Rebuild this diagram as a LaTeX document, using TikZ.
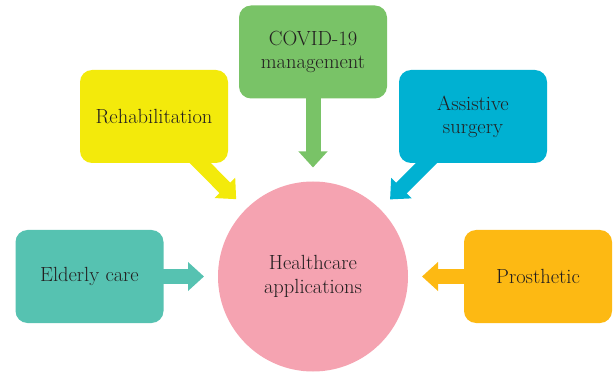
\documentclass[tikz,border=0pt]{standalone}
\usepackage{fontspec}
\usetikzlibrary{arrows.meta,backgrounds}
\definecolor{cyel}{HTML}{F3EA0B}
\definecolor{cgreen}{HTML}{79C367}
\definecolor{cblue}{HTML}{00B1D2}
\definecolor{cteal}{HTML}{56C2B1}
\definecolor{corange}{HTML}{FDB913}
\definecolor{cpink}{HTML}{F5A3B1}
\definecolor{ctext}{HTML}{231F20}
\begin{document}
\begin{tikzpicture}[x=1pt,y=-1pt,
  box/.style={rounded corners=12pt, minimum width=148pt, minimum height=93pt,
    inner sep=0pt, outer sep=0pt, align=center, text=ctext,
    font=\fontsize{20.5}{23}\selectfont},
  hub/.style={circle, fill=cpink, minimum size=190pt, inner sep=0pt, outer sep=0pt,
    align=center, text=ctext, font=\fontsize{20.5}{24}\selectfont},
  feed/.style={line width=15pt, -{Triangle[width=28pt,length=16pt]}, shorten >=14pt}]
\useasboundingbox (0,0) rectangle (613,374);
\node[hub] (hc) at (313,276.5) {Healthcare\\applications};
\node[box, fill=cyel] (rehab) at (154,116.5) {Rehabilitation};
\node[box, fill=cgreen] (covid) at (313,52) {COVID-19\\management};
\node[box, fill=cblue] (assist) at (473,116.5) {Assistive\\surgery};
\node[box, fill=cteal] (elder) at (89.5,276.5) {Elderly care};
\node[box, fill=corange] (pros) at (538,276.5) {Prosthetic};
\begin{pgfonlayer}{background}
\draw[feed, cyel] (rehab.center) -- (hc);
\draw[feed, cgreen] (covid.center) -- (hc);
\draw[feed, cblue] (assist.center) -- (hc);
\draw[feed, cteal] (elder.center) -- (hc);
\draw[feed, corange] (pros.center) -- (hc);
\end{pgfonlayer}
\end{tikzpicture}
\end{document}
